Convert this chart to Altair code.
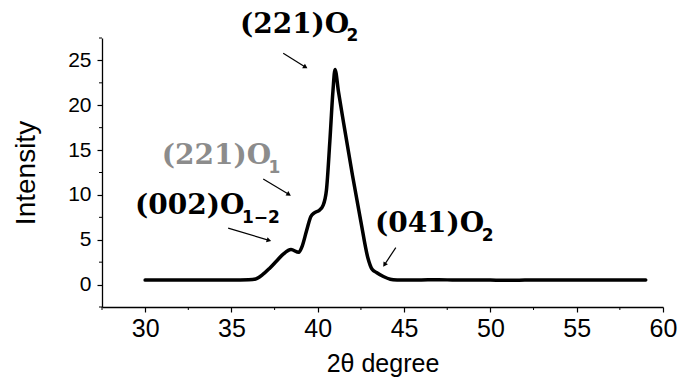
import altair as alt
import pandas as pd

# ---- curve data (2θ, intensity) ----
two_theta = [30, 31, 32, 33, 34, 35, 36, 36.4, 36.8, 37.2, 37.6, 38.0, 38.45, 38.9,
             39.1, 39.35, 39.6, 39.8, 40.1, 40.3, 40.5, 40.7, 40.88, 41.0, 41.2,
             41.5, 42.0, 42.5, 42.9, 43.15, 43.4, 43.8, 44.2, 44.6, 45, 46, 47, 48,
             49, 50, 51, 52, 53, 54, 55, 56, 57, 58, 59]
intensity = [0.5, 0.52, 0.5, 0.5, 0.52, 0.52, 0.55, 0.62, 1.1, 1.8, 2.6, 3.4, 3.9, 3.6,
             4.3, 6.0, 7.6, 8.0, 8.3, 8.8, 10.5, 16.0, 21.6, 24.0, 21.5,
             18.0, 12.3, 7.0, 3.0, 1.7, 1.35, 0.9, 0.6, 0.52, 0.5, 0.52, 0.55, 0.5,
             0.52, 0.5, 0.48, 0.5, 0.52, 0.5, 0.5, 0.52, 0.5, 0.5, 0.5]

x_ticks = [30, 35, 40, 45, 50, 55, 60]
y_ticks = [0, 5, 10, 15, 20, 25]
x_minor = [27.5, 32.5, 37.5, 42.5, 47.5, 52.5, 57.5]
y_minor = [-2.5, 2.5, 7.5, 12.5, 17.5, 22.5, 27.5]

# ---- annotations ----
lab_text = ["(221)O", "(221)O", "(002)O", "(041)O"]
lab_x = [35.49, 30.96, 29.41, 43.31]
lab_y = [28.1, 13.48, 7.89, 5.88]
lab_color = ["#000000", "#8c8c8c", "#000000", "#000000"]
sub_text = ["2", "1", "1\u22122", "2"]
sub_x = [41.67, 37.15, 35.61, 49.50]
sub_y = [27.21, 12.39, 6.89, 4.88]

arr_x0 = [38.00, 36.84, 34.81, 44.52]
arr_y0 = [25.79, 11.77, 6.30, 4.13]
arr_x1 = [39.25, 38.29, 37.13, 43.89]
arr_y1 = [24.30, 10.09, 4.96, 2.28]
arr_angle = [121.5, 121.0, 106.7, 213.5]

W, H = 561, 269
xs = alt.Scale(domain=[27.5, 60], nice=False, zero=False)
ys = alt.Scale(domain=[-2.5, 27.5], nice=False, zero=False)

curve_df = pd.DataFrame({"x": two_theta, "y": intensity})
lab_df = pd.DataFrame({"x": lab_x, "y": lab_y, "t": lab_text, "c": lab_color})
sub_df = pd.DataFrame({"x": sub_x, "y": sub_y, "t": sub_text, "c": lab_color})
arr_df = pd.DataFrame({"x0": arr_x0, "y0": arr_y0, "x1": arr_x1, "y1": arr_y1, "a": arr_angle})
xm_df = pd.DataFrame({"x": x_minor})
ym_df = pd.DataFrame({"y": y_minor})

curve = alt.Chart(curve_df).mark_line(
    color="black", strokeWidth=3.5, interpolate="monotone", strokeCap="round", strokeJoin="round"
).encode(
    x=alt.X("x:Q", scale=xs, title="2\u03b8 degree",
            axis=alt.Axis(values=x_ticks, grid=False, tickSize=5, labelPadding=4,
                          labelFontSize=25, titleFontSize=25, titlePadding=10,
                          labelFlush=False)),
    y=alt.Y("y:Q", scale=ys, title="Intensity",
            axis=alt.Axis(values=y_ticks, grid=False, tickSize=5, labelPadding=6,
                          labelFontSize=21, titleFontSize=28, titlePadding=27,
                          labelFlush=False)),
)

xminor = alt.Chart(xm_df).mark_rule(color="black", strokeWidth=1).encode(
    x=alt.X("x:Q", scale=xs), y=alt.value(H), y2=alt.value(H + 3)
)
yminor = alt.Chart(ym_df).mark_rule(color="black", strokeWidth=1).encode(
    y=alt.Y("y:Q", scale=ys), x=alt.value(0), x2=alt.value(-3)
)

labels = alt.Chart(lab_df).mark_text(
    font="DejaVu Serif", fontWeight="bold", fontSize=28, align="left", baseline="alphabetic"
).encode(
    x=alt.X("x:Q", scale=xs), y=alt.Y("y:Q", scale=ys), text="t:N",
    color=alt.Color("c:N", scale=None)
)
subs = alt.Chart(sub_df).mark_text(
    font="DejaVu Sans", fontWeight="bold", fontSize=17, align="left", baseline="alphabetic"
).encode(
    x=alt.X("x:Q", scale=xs), y=alt.Y("y:Q", scale=ys), text="t:N",
    color=alt.Color("c:N", scale=None)
)
arrows = alt.Chart(arr_df).mark_rule(color="black", strokeWidth=1.2).encode(
    x=alt.X("x0:Q", scale=xs), y=alt.Y("y0:Q", scale=ys),
    x2="x1:Q", y2="y1:Q"
)
heads = alt.Chart(arr_df).mark_point(
    shape="triangle", filled=True, color="black", size=28, opacity=1
).encode(
    x=alt.X("x1:Q", scale=xs), y=alt.Y("y1:Q", scale=ys),
    angle=alt.Angle("a:Q", scale=None)
)

chart = alt.layer(curve, xminor, yminor, arrows, heads, labels, subs).properties(
    width=W, height=H,
    autosize=alt.AutoSizeParams(type="none"),
    padding={"left": 94, "top": 30, "right": 15, "bottom": 72},
).configure_view(strokeOpacity=0).configure_axis(
    domainColor="black", domainWidth=1.3, tickColor="black", tickWidth=1.2,
    labelColor="black", titleColor="black", labelFont="Liberation Sans",
    titleFont="Liberation Sans", titleFontWeight="normal"
)

chart.save("out.html", embed_options={"renderer": "svg", "actions": False})
